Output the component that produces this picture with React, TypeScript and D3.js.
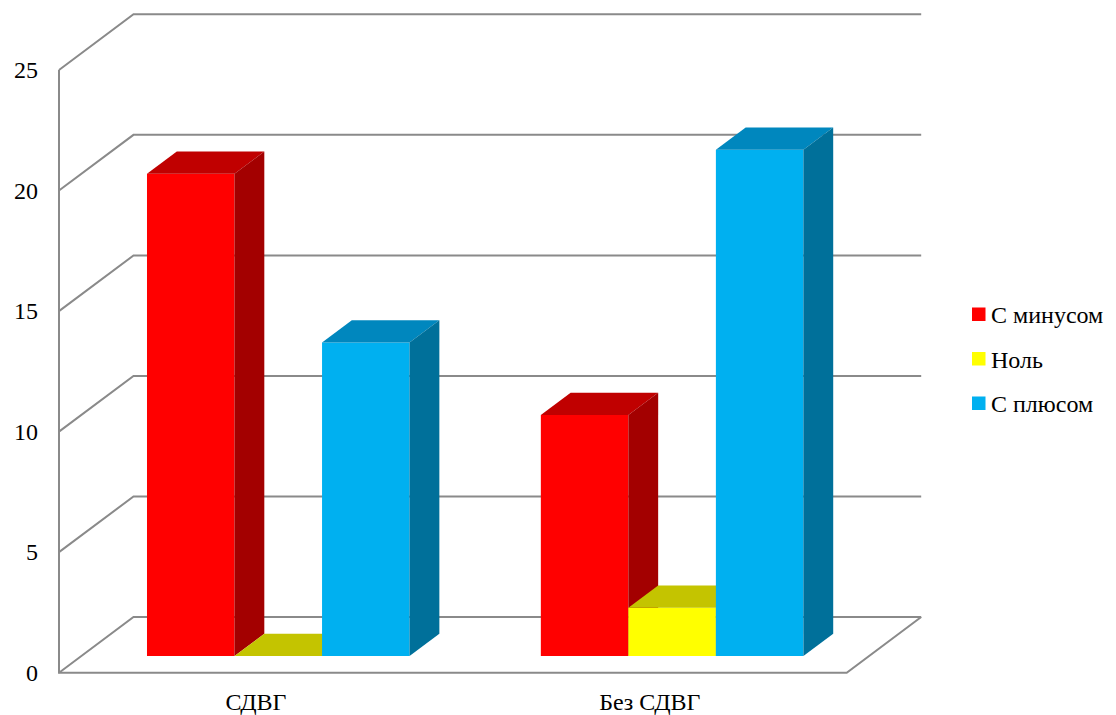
import React from "react";
import * as d3 from "d3";

const categories = ["СДВГ", "Без СДВГ"];
const seriesNames = ["С минусом", "Ноль", "С плюсом"];
const minusValues = [20, 10];
const zeroValues = [0, 2];
const plusValues = [13, 21];
const yTicks = [0, 5, 10, 15, 20, 25];

const seriesValues = [minusValues, zeroValues, plusValues];
const colors = [
  { front: "#FF0000", top: "#C00000", side: "#A30000" },
  { front: "#FFFF00", top: "#C4C400", side: "#9E9E00" },
  { front: "#00B0F0", top: "#0087BE", side: "#00709A" },
];

const X0 = 59;
const Y0 = 672.7;
const W = 787.7;
const DX = 74.5;
const DY = 55.7;
const Z0 = 0.3;
const Z1 = 0.7;
const FONT = '"Liberation Serif", Tinos, "Times New Roman", "DejaVu Serif", serif';

export default function App() {
  const y = d3.scaleLinear().domain([0, 25]).range([0, 602.7]);
  const xBand = d3.scaleBand<string>().domain(categories).range([0, W]);
  const bw = xBand.bandwidth();
  const sub = d3
    .scaleBand<string>()
    .domain(seriesNames)
    .range([bw / 6, (bw * 5) / 6]);

  const proj = (x: number, v: number, z: number): [number, number] => [
    X0 + x + z * DX,
    Y0 - y(v) - z * DY,
  ];
  const poly = (pts: [number, number][]) =>
    pts.map((p) => p[0].toFixed(2) + "," + p[1].toFixed(2)).join(" ");

  const grid = "#8a8a8a";
  const gridLines: any[] = [];
  yTicks.forEach((t, i) => {
    const a = proj(0, t, 0);
    const b = proj(0, t, 1);
    const c = proj(W, t, 1);
    gridLines.push(
      <polyline
        key={"g" + i}
        points={poly([a, b, c])}
        fill="none"
        stroke={grid}
        strokeWidth={2}
      />
    );
  });
  const f0 = proj(0, 0, 0);
  const f1 = proj(W, 0, 0);
  const f2 = proj(W, 0, 1);
  const top = proj(0, 25, 0);

  const bars: any[] = [];
  categories.forEach((cat, ci) => {
    seriesNames.forEach((s, si) => {
      const v = seriesValues[si][ci];
      const x0 = (xBand(cat) as number) + (sub(s) as number);
      const x1 = x0 + sub.bandwidth();
      const c = colors[si];
      bars.push(
        <g key={cat + s}>
          <polygon
            points={poly([proj(x0, 0, Z0), proj(x1, 0, Z0), proj(x1, v, Z0), proj(x0, v, Z0)])}
            fill={c.front}
          />
          <polygon
            points={poly([proj(x0, v, Z0), proj(x1, v, Z0), proj(x1, v, Z1), proj(x0, v, Z1)])}
            fill={c.top}
          />
          <polygon
            points={poly([proj(x1, 0, Z0), proj(x1, 0, Z1), proj(x1, v, Z1), proj(x1, v, Z0)])}
            fill={c.side}
          />
        </g>
      );
    });
  });

  const textStyle = { fontFamily: FONT, fontSize: "24px" };

  return (
    <svg
      width={1116}
      height={715}
      style={{ position: "absolute", left: 0, top: 0, background: "#fff" }}
    >
      {gridLines}
      <polyline
        points={poly([top, f0, f1, f2])}
        fill="none"
        stroke={grid}
        strokeWidth={2}
      />
      {bars}
      {yTicks.map((t) => {
        const p = proj(0, t, 0);
        return (
          <text
            key={"t" + t}
            x={38}
            y={p[1] + 8}
            textAnchor="end"
            style={textStyle}
            fill="#000"
          >
            {t}
          </text>
        );
      })}
      {categories.map((cat) => (
        <text
          key={"c" + cat}
          x={X0 + (xBand(cat) as number) + bw / 2}
          y={710}
          textAnchor="middle"
          style={textStyle}
          fill="#000"
        >
          {cat}
        </text>
      ))}
      {seriesNames.map((s, i) => (
        <g key={"l" + s}>
          <rect x={972} y={307.5 + i * 44.5} width={13.5} height={13.5} fill={colors[i].front} />
          <text x={991} y={323 + i * 44.5} style={textStyle} fill="#000">
            {s}
          </text>
        </g>
      ))}
    </svg>
  );
}
